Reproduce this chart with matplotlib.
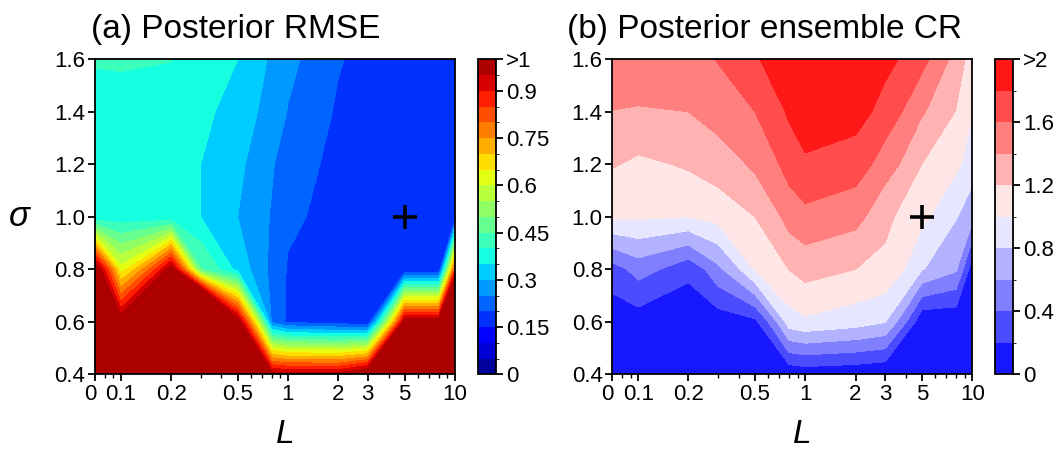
import numpy as np
import matplotlib
matplotlib.use("Agg")
import matplotlib.pyplot as plt
import matplotlib.transforms as mtransforms
from matplotlib.colors import BoundaryNorm, ListedColormap
from matplotlib.cm import ScalarMappable
from matplotlib.ticker import FixedLocator, NullFormatter

plt.rcParams['font.family'] = ['Liberation Sans', 'DejaVu Sans']

# ---------- data ----------
L_vals = [0, 0.1, 0.2, 0.3, 0.5, 0.8, 1, 2, 3, 5, 8, 10]
sigma_vals = [0.4, 0.6, 0.8, 1.0, 1.2, 1.4, 1.6]

# posterior RMSE, one row per sigma (low -> high), columns follow L_vals
rmse = [
    [1.5, 1.5, 1.5, 1.5, 1.5, 0.987, 0.97, 0.97, 1.05, 1.5, 1.5, 1.5],
    [1.5, 1.0, 1.5, 1.85, 1.0, 0.24, 0.19, 0.17, 0.155, 1.0, 1.0, 1.56],
    [1.03, 0.62, 1.0, 0.455, 0.33, 0.235, 0.195, 0.17, 0.17, 0.155, 0.155, 0.85],
    [0.36, 0.37, 0.36, 0.35, 0.30, 0.245, 0.21, 0.175, 0.17, 0.165, 0.165, 0.16],
    [0.375, 0.375, 0.375, 0.35, 0.31, 0.255, 0.22, 0.184, 0.17, 0.165, 0.165, 0.165],
    [0.38, 0.38, 0.38, 0.36, 0.33, 0.273, 0.248, 0.191, 0.17, 0.165, 0.165, 0.165],
    [0.404, 0.406, 0.401, 0.37, 0.35, 0.29, 0.26, 0.205, 0.175, 0.165, 0.165, 0.165],
]

# posterior ensemble consistency ratio
cr = [
    [0.03, 0.03, 0.03, 0.03, 0.03, 0.04, 0.067, 0.04, 0.01, 0.0, 0.0, 0.0],
    [0.07, 0.09, 0.054, 0.08, 0.15, 0.91, 0.966, 0.89, 0.81, 0.02, 0.03, 0.03],
    [0.31, 0.48, 0.25, 0.55, 1.02, 1.204, 1.278, 1.2, 1.16, 0.81, 0.627, 0.07],
    [1.03, 1.027, 1.0, 1.07, 1.2, 1.48, 1.54, 1.467, 1.24, 1.045, 0.81, 0.66],
    [1.215, 1.16, 1.228, 1.3, 1.44, 1.68, 1.775, 1.70, 1.5, 1.197, 1.04, 0.9],
    [1.395, 1.38, 1.40, 1.48, 1.6, 1.83, 1.89, 1.88, 1.72, 1.42, 1.19, 1.01],
    [1.55, 1.55, 1.52, 1.61, 1.78, 1.95, 1.97, 1.98, 1.86, 1.66, 1.31, 1.1],
]

rmse_levels = np.linspace(0, 1, 21)
cr_levels = np.linspace(0, 2, 11)
rmse_ticks = [0, 0.15, 0.3, 0.45, 0.6, 0.75, 0.9, 1.0]
rmse_ticklabels = ['0', '0.15', '0.3', '0.45', '0.6', '0.75', '0.9', '>1']
cr_ticks = [0, 0.4, 0.8, 1.2, 1.6, 2.0]
cr_ticklabels = ['0', '0.4', '0.8', '1.2', '1.6', '>2']

x_major = [0, 0.1, 0.2, 0.5, 1, 2, 3, 5, 10]
x_major_labels = ['0', '0.1', '0.2', '0.5', '1', '2', '3', '5', '10']
x_minor = [0.08, 0.09, 0.3, 0.4, 0.6, 0.7, 0.8, 0.9, 4, 6, 7, 8, 9]
L_zero = 0.07  # where L = 0 sits on the log axis
truth = (5, 1.0)

# ---------- figure ----------
W, H = 1062, 453
fig = plt.figure(figsize=(W / 100, H / 100), dpi=100)
TICK_FS = 16


def box(x0, y0, x1, y1):
    return [x0 / W, 1 - y1 / H, (x1 - x0) / W, (y1 - y0) / H]


def xpos(v):
    return [L_zero if t == 0 else t for t in v]


def panel(ax, cax, z, levels, cmap_name, cticks, clabels, top=None):
    cmap = plt.get_cmap(cmap_name)
    mids = 0.5 * (levels[:-1] + levels[1:])
    cols = cmap((mids - levels[0]) / (levels[-1] - levels[0]))
    if top is not None:
        cols[-1] = cmap(top)
    lc = ListedColormap(cols).with_extremes(over=cols[-1])
    norm = BoundaryNorm(levels, lc.N)
    ax.contourf(xpos(L_vals), sigma_vals, np.array(z), levels=levels,
                cmap=lc, norm=norm, extend='max')
    ax.plot(*truth, marker='+', color='k', ms=17, mew=2.6, ls='none')

    ax.set_xscale('log')
    ax.set_xlim(L_zero, 10)
    ax.set_ylim(0.4, 1.6)
    ax.xaxis.set_major_locator(FixedLocator(xpos(x_major)))
    ax.set_xticklabels(x_major_labels)
    ax.xaxis.set_minor_locator(FixedLocator(x_minor))
    ax.xaxis.set_minor_formatter(NullFormatter())
    yt = np.arange(0.4, 1.61, 0.2)
    ax.set_yticks(yt)
    ax.set_yticklabels([f'{v:.1f}' for v in yt])
    ax.tick_params(which='major', direction='out', length=5, width=1.3,
                   labelsize=TICK_FS, pad=2)
    ax.tick_params(which='minor', direction='out', length=3, width=1.0)
    for s in ax.spines.values():
        s.set_linewidth(1.3)
    ax.set_xlabel('L', style='italic', fontsize=24, va='center')
    ax.xaxis.set_label_coords(0.528, -0.19)

    # the "0" label sits a little left of its tick, clear of "0.1"
    lab0 = ax.get_xticklabels()[0]
    lab0.set_transform(lab0.get_transform() +
                       mtransforms.ScaledTranslation(-5 / 100, 0, fig.dpi_scale_trans))

    cb = fig.colorbar(ScalarMappable(norm=norm, cmap=lc), cax=cax)
    cb.set_ticks(cticks)
    cb.set_ticklabels(clabels)
    cb.outline.set_linewidth(1.3)
    cax.tick_params(direction='out', length=5, width=1.3, labelsize=TICK_FS, pad=2)


ax_a = fig.add_axes(box(95, 59.3, 455, 374.3))
cax_a = fig.add_axes(box(477.7, 59.3, 496, 374.3))
ax_b = fig.add_axes(box(612.3, 59.3, 972.3, 374.3))
cax_b = fig.add_axes(box(995, 59.3, 1013.3, 374.3))

panel(ax_a, cax_a, rmse, rmse_levels, 'jet', rmse_ticks, rmse_ticklabels, top=0.96)
panel(ax_b, cax_b, cr, cr_levels, 'bwr', cr_ticks, cr_ticklabels)

ax_a.set_ylabel('σ', style='italic', fontsize=25, rotation=0, va='center', ha='center')
ax_a.yaxis.set_label_coords(-0.21, 0.5)

fig.text(91 / W, 1 - 38 / H, '(a) Posterior RMSE', fontsize=24, va='baseline', ha='left')
fig.text(567 / W, 1 - 38 / H, '(b) Posterior ensemble CR', fontsize=24, va='baseline', ha='left')

fig.savefig('out.png', dpi=100)
